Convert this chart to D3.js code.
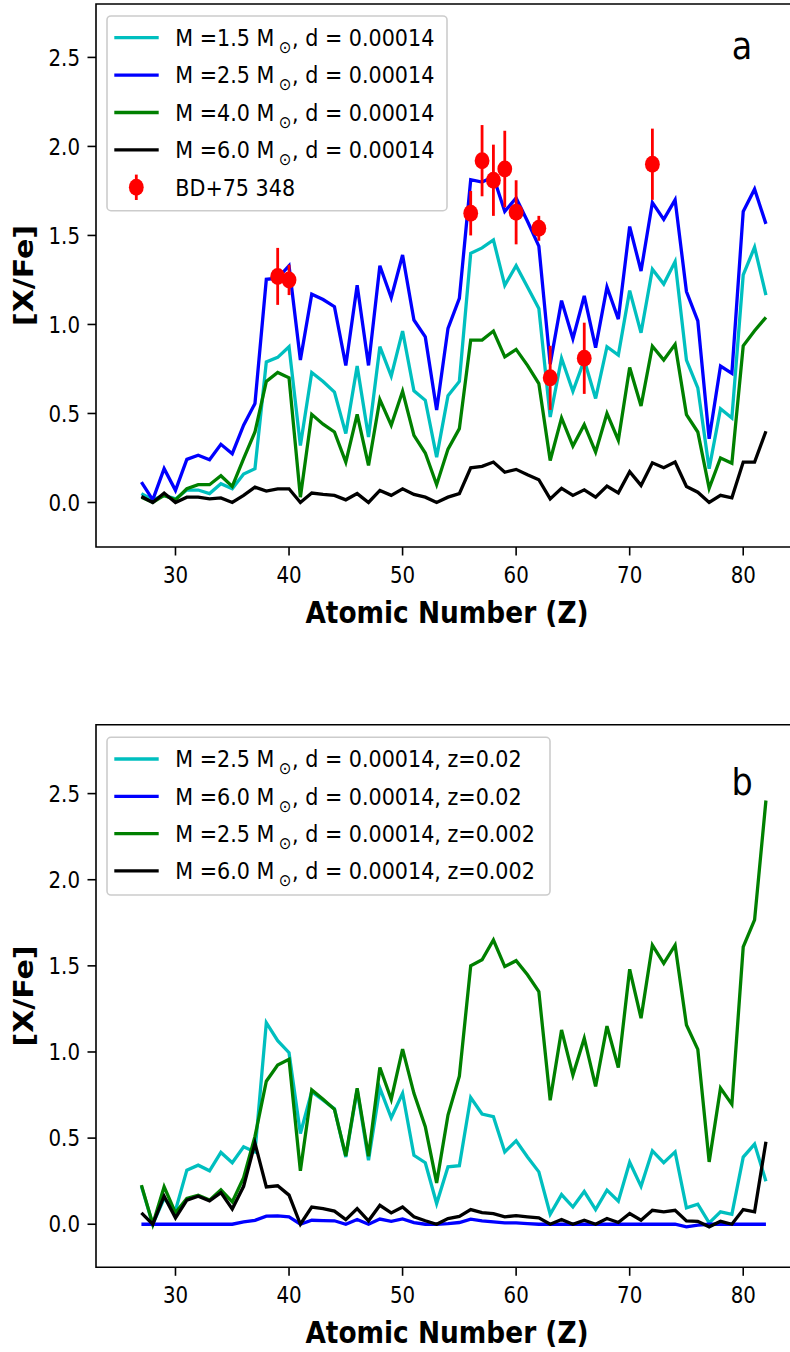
<!DOCTYPE html>
<html>
<head>
<meta charset="utf-8">
<script src="https://cdn.jsdelivr.net/npm/d3@7"></script>
<style>
  body { margin: 0; background: #fff; }
  svg { display: block; }
</style>
</head>
<body>
<svg id="fig" width="790" height="1352"></svg>
<script>
// ---- data ---------------------------------------------------------------
const atomicNumbers = [27,28,29,30,31,32,33,34,35,36,37,38,39,40,41,42,43,44,45,46,47,48,49,50,51,52,53,54,
  55,56,57,58,59,60,61,62,63,64,65,66,67,68,69,70,71,72,73,74,75,76,77,78,79,80,81,82];

const xTicks = [30, 40, 50, 60, 70, 80];
const yTicks = [0, 0.5, 1.0, 1.5, 2.0, 2.5];
const yTickLabels = ["0.0", "0.5", "1.0", "1.5", "2.0", "2.5"];

// panel a: d = 0.00014 models for four initial masses
const a_m15 = [0.05,0.015,0.04,0.02,0.07,0.07,0.05,0.105,0.077,0.16,0.19,0.79,0.815,0.875,0.32,0.73,0.68,0.62,0.387,0.766,0.368,0.875,0.71,0.963,0.627,0.574,0.255,0.60,
  0.68,1.40,1.43,1.475,1.22,1.33,1.21,1.09,0.48,0.81,0.625,0.80,0.584,0.875,0.828,1.19,0.953,1.31,1.227,1.353,0.80,0.644,0.19,0.527,0.475,1.278,1.434,1.165];
const a_m25 = [0.114,0.015,0.19,0.068,0.242,0.265,0.24,0.327,0.274,0.434,0.556,1.254,1.26,1.33,0.80,1.17,1.14,1.10,0.77,1.22,0.77,1.33,1.15,1.39,1.025,0.93,0.52,0.978,
  1.147,1.813,1.80,1.83,1.635,1.71,1.58,1.44,0.777,1.134,0.92,1.16,0.87,1.21,1.03,1.55,1.30,1.685,1.59,1.70,1.185,1.02,0.358,0.766,0.725,1.635,1.76,1.565];
const a_m40 = [0.03,0.0,0.04,0.015,0.077,0.10,0.10,0.15,0.09,0.246,0.396,0.68,0.73,0.70,0.03,0.495,0.44,0.396,0.227,0.495,0.208,0.578,0.434,0.625,0.377,0.278,0.10,0.30,
  0.415,0.912,0.912,0.963,0.818,0.86,0.77,0.668,0.236,0.475,0.317,0.437,0.283,0.50,0.35,0.758,0.542,0.878,0.80,0.888,0.494,0.396,0.08,0.25,0.22,0.88,0.965,1.04];
const a_m60 = [0.034,0.0,0.053,0.0,0.03,0.03,0.02,0.026,0.0,0.04,0.086,0.064,0.077,0.077,0.0,0.053,0.045,0.04,0.015,0.05,0.0,0.068,0.04,0.077,0.045,0.03,0.0,0.03,
  0.05,0.195,0.203,0.227,0.17,0.186,0.156,0.128,0.02,0.08,0.04,0.071,0.03,0.092,0.054,0.173,0.096,0.223,0.195,0.227,0.09,0.058,0.0,0.04,0.026,0.227,0.227,0.40];

// observed abundances of BD+75 348
const obsZ   = [39, 40, 56, 57, 58, 59, 60, 62, 63, 66, 72];
const obsVal = [1.27, 1.25, 1.625, 1.92, 1.81, 1.873, 1.63, 1.54, 0.70, 0.81, 1.90];
const obsErr = [0.16, 0.085, 0.125, 0.2, 0.2, 0.215, 0.18, 0.07, 0.18, 0.2, 0.2];

// panel b: metallicity comparison
const b_m25_z02  = [0.22,0.0,0.15,0.08,0.314,0.343,0.31,0.417,0.357,0.45,0.42,1.17,1.066,0.996,0.527,0.77,0.72,0.67,0.39,0.78,0.372,0.79,0.618,0.76,0.40,0.357,0.12,0.333,
  0.34,0.736,0.64,0.624,0.42,0.484,0.39,0.304,0.058,0.172,0.10,0.19,0.085,0.198,0.134,0.36,0.22,0.426,0.357,0.42,0.095,0.116,0.008,0.072,0.058,0.39,0.465,0.25];
const b_m60_z02  = [0,0,0,0,0,0,0,0,0,0.014,0.023,0.047,0.048,0.043,0,0.023,0.021,0.02,0,0.027,0,0.03,0.017,0.031,0.01,0,0,0.004,
  0.01,0.03,0.02,0.014,0.008,0.008,0.004,0,0,0,0,0,0,0,0,0,0,0,0,0,-0.015,-0.005,0,0,0,0,0,0];
const b_m25_z002 = [0.227,0.0,0.217,0.066,0.15,0.169,0.14,0.20,0.13,0.27,0.51,0.83,0.924,0.957,0.31,0.78,0.725,0.667,0.397,0.79,0.395,0.91,0.725,1.017,0.76,0.566,0.24,0.634,
  0.86,1.50,1.535,1.65,1.496,1.53,1.448,1.35,0.72,1.128,0.866,1.08,0.80,1.15,0.91,1.48,1.196,1.62,1.515,1.62,1.157,1.015,0.362,0.79,0.696,1.61,1.767,2.46];
const b_m60_z002 = [0.066,0.0,0.163,0.037,0.14,0.163,0.136,0.184,0.089,0.22,0.47,0.217,0.223,0.169,0.0,0.10,0.091,0.076,0.027,0.091,0.02,0.11,0.066,0.10,0.043,0.02,0.0,0.033,
  0.046,0.085,0.068,0.062,0.043,0.05,0.043,0.037,0.0,0.027,0.0,0.023,0.0,0.033,0.01,0.062,0.023,0.081,0.072,0.081,0.019,0.017,-0.015,0.017,0.0,0.085,0.072,0.479];

const seriesA = [
  { values: a_m15, color: "#00bfbf", mass: "M =1.5 M", tail: ", d = 0.00014" },
  { values: a_m25, color: "#0000ff", mass: "M =2.5 M", tail: ", d = 0.00014" },
  { values: a_m40, color: "#008000", mass: "M =4.0 M", tail: ", d = 0.00014" },
  { values: a_m60, color: "#000000", mass: "M =6.0 M", tail: ", d = 0.00014" }
];
const obsLabel = "BD+75 348";
const seriesB = [
  { values: b_m25_z02,  color: "#00bfbf", mass: "M =2.5 M", tail: ", d = 0.00014, z=0.02" },
  { values: b_m60_z02,  color: "#0000ff", mass: "M =6.0 M", tail: ", d = 0.00014, z=0.02" },
  { values: b_m25_z002, color: "#008000", mass: "M =2.5 M", tail: ", d = 0.00014, z=0.002" },
  { values: b_m60_z002, color: "#000000", mass: "M =6.0 M", tail: ", d = 0.00014, z=0.002" }
];

// ---- drawing --------------------------------------------------------------
const FONT = "DejaVu Sans, Verdana, sans-serif";
const SX = 0.88;           // horizontal squeeze applied to all text
const svg = d3.select("#fig");

const x = d3.scaleLinear().domain([23, 85]).range([96, 800]);

function sText(parent, px, py, str, opts = {}) {
  const g = parent.append("g")
    .attr("transform", `translate(${px},${py}) scale(${SX},1)` + (opts.rotate ? ` rotate(${opts.rotate})` : ""));
  const t = g.append("text")
    .attr("x", 0).attr("y", 0)
    .attr("font-family", FONT)
    .attr("font-size", opts.size || 22.5)
    .attr("font-weight", opts.weight || "normal")
    .attr("text-anchor", opts.anchor || "start")
    .attr("fill", "#000");
  if (str !== null) t.text(str);
  return t;
}

// "M =x.x M☉, ..." with the solar symbol set as a subscript
function legendLabel(parent, px, py, s) {
  const t = sText(parent, px, py, null, { size: 23.5 });
  t.append("tspan").text(s.mass);
  t.append("tspan").attr("font-size", 17).attr("dx", 5).attr("dy", 7).text("\u2299");
  t.append("tspan").attr("dx", 1).attr("dy", -7).text(s.tail);
}

function panel(cfg) {
  const y = d3.scaleLinear().domain([-0.25, cfg.yTop]).range([cfg.bottom, cfg.top]);
  const g = svg.append("g");

  // model curves
  const line = d3.line().x((d, i) => x(atomicNumbers[i])).y(d => y(d));
  cfg.series.forEach(s => {
    g.append("path").datum(s.values)
      .attr("d", line)
      .attr("fill", "none")
      .attr("stroke", s.color)
      .attr("stroke-width", 3.3)
      .attr("stroke-linejoin", "miter")
      .attr("stroke-miterlimit", 4);
  });

  // observations with error bars
  if (cfg.obs) {
    obsZ.forEach((z, i) => {
      g.append("line")
        .attr("x1", x(z)).attr("x2", x(z))
        .attr("y1", y(obsVal[i] - obsErr[i])).attr("y2", y(obsVal[i] + obsErr[i]))
        .attr("stroke", "#ff0000").attr("stroke-width", 2.8);
      g.append("ellipse")
        .attr("cx", x(z)).attr("cy", y(obsVal[i]))
        .attr("rx", 7.4).attr("ry", 8.5)
        .attr("fill", "#ff0000");
    });
  }

  // spines
  const [x0, x1] = x.range();
  g.append("path")
    .attr("d", `M${x1},${cfg.top}H${x0}V${cfg.bottom}H${x1}`)
    .attr("fill", "none").attr("stroke", "#000").attr("stroke-width", 1.6);

  // y ticks
  yTicks.forEach((v, i) => {
    g.append("line").attr("x1", x0 - 8.5).attr("x2", x0)
      .attr("y1", y(v)).attr("y2", y(v))
      .attr("stroke", "#000").attr("stroke-width", 1.6);
    sText(g, 80, y(v) + 8.2, yTickLabels[i], { anchor: "end" });
  });
  // x ticks
  xTicks.forEach(v => {
    g.append("line").attr("x1", x(v)).attr("x2", x(v))
      .attr("y1", cfg.bottom).attr("y2", cfg.bottom + 8.5)
      .attr("stroke", "#000").attr("stroke-width", 1.6);
    sText(g, x(v), cfg.bottom + 36, String(v), { anchor: "middle" });
  });

  // axis titles
  sText(g, 447, cfg.bottom + 75.5, "Atomic Number (Z)", { size: 30, weight: "bold", anchor: "middle" });
  sText(g, 33, (cfg.top + cfg.bottom) / 2, "[X/Fe]", { size: 30, weight: "bold", anchor: "middle", rotate: -90 });

  // panel letter
  sText(g, 742, cfg.letterY, cfg.letter, { size: 38, anchor: "middle" });

  // legend
  const L = cfg.legend;
  g.append("rect")
    .attr("x", L.x).attr("y", L.y).attr("width", L.w).attr("height", L.h)
    .attr("rx", 4).attr("ry", 4)
    .attr("fill", "#fff").attr("fill-opacity", 0.8)
    .attr("stroke", "#cccccc").attr("stroke-width", 1.6);
  cfg.series.forEach((s, i) => {
    const cy = L.row0 + i * L.step;
    g.append("line").attr("x1", 114.3).attr("x2", 158.7).attr("y1", cy).attr("y2", cy)
      .attr("stroke", s.color).attr("stroke-width", 3.3);
    legendLabel(g, 175.3, cy + 8.3, s);
  });
  if (cfg.obs) {
    const cy = L.row0 + cfg.series.length * L.step;
    g.append("line").attr("x1", 136.3).attr("x2", 136.3).attr("y1", cy - 12.7).attr("y2", cy + 12.7)
      .attr("stroke", "#ff0000").attr("stroke-width", 2.8);
    g.append("ellipse").attr("cx", 136.3).attr("cy", cy).attr("rx", 7.4).attr("ry", 8.5).attr("fill", "#ff0000");
    sText(g, 175.3, cy + 8.3, obsLabel, { size: 23.5 });
  }
}

panel({
  top: 4, bottom: 547, yTop: 2.8, series: seriesA, obs: true,
  letter: "a", letterY: 59,
  legend: { x: 107, y: 16, w: 340, h: 194.7, row0: 37.7, step: 37.4 }
});
panel({
  top: 724.7, bottom: 1267.3, yTop: 2.9, series: seriesB, obs: false,
  letter: "b", letterY: 795,
  legend: { x: 107, y: 737.3, w: 443, h: 157.7, row0: 759, step: 37.3 }
});
</script>
</body>
</html>
